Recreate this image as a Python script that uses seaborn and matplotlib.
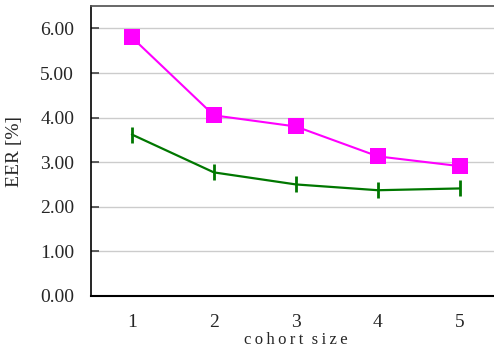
import matplotlib
matplotlib.use("Agg")
import matplotlib.pyplot as plt
import pandas as pd
import seaborn as sns

cohort_size = [1, 2, 3, 4, 5]
eer_magenta = [5.80, 4.05, 3.80, 3.13, 2.91]
eer_green = [3.62, 2.77, 2.50, 2.37, 2.41]
y_ticks = [0, 1, 2, 3, 4, 5, 6]

sns.set_theme(style="whitegrid")
plt.rcParams.update(
    {
        "font.family": ["Liberation Serif", "DejaVu Serif"],
        "axes.edgecolor": "black",
        "grid.color": "#cccccc",
        "grid.linewidth": 1.0,
    }
)

df = pd.DataFrame(
    {
        "cohort": cohort_size * 2,
        "eer": eer_magenta + eer_green,
        "series": ["a"] * 5 + ["b"] * 5,
    }
)

fig = plt.figure(figsize=(4.94, 3.63), dpi=100)
ax = fig.add_axes([0.184, 0.185, 0.83, 0.798])

sns.lineplot(data=df[df.series == "a"], x="cohort", y="eer", color="#ff00ff",
             marker="s", markersize=11, markeredgewidth=0, linewidth=1.5, ax=ax)
sns.lineplot(data=df[df.series == "b"], x="cohort", y="eer", color="#007700",
             marker="|", markersize=11, markeredgewidth=2,
             markeredgecolor="#007700", linewidth=1.6, ax=ax)

ax.set_xlim(0.5, 5.5)
ax.set_ylim(0, 6.5)
ax.set_yticks(y_ticks)
ax.set_yticklabels([f"{v:.2f}" for v in y_ticks], fontsize=14)
ax.set_xticks(cohort_size)
ax.set_xticklabels([str(c) for c in cohort_size], fontsize=14)
ax.grid(axis="x", visible=False)
ax.grid(axis="y", visible=True)
ax.tick_params(axis="y", left=True, direction="in", length=6, width=1.2,
               color="#444444", pad=12)
ax.tick_params(axis="x", length=0, pad=13)
ax.spines["left"].set_color("black")
ax.spines["bottom"].set_color("black")
ax.spines["bottom"].set_linewidth(1.5)
ax.spines["left"].set_linewidth(1.2)
ax.spines["top"].set_color("#555555")
ax.spines["right"].set_color("#555555")
xlabel = "\u2009".join("cohort") + "  " + "\u2009".join("size")
ax.set_xlabel(xlabel, fontsize=12, labelpad=1)
ax.set_ylabel("EER [%]", fontsize=14, labelpad=12)

fig.savefig("out.png", dpi=100, facecolor="white")
